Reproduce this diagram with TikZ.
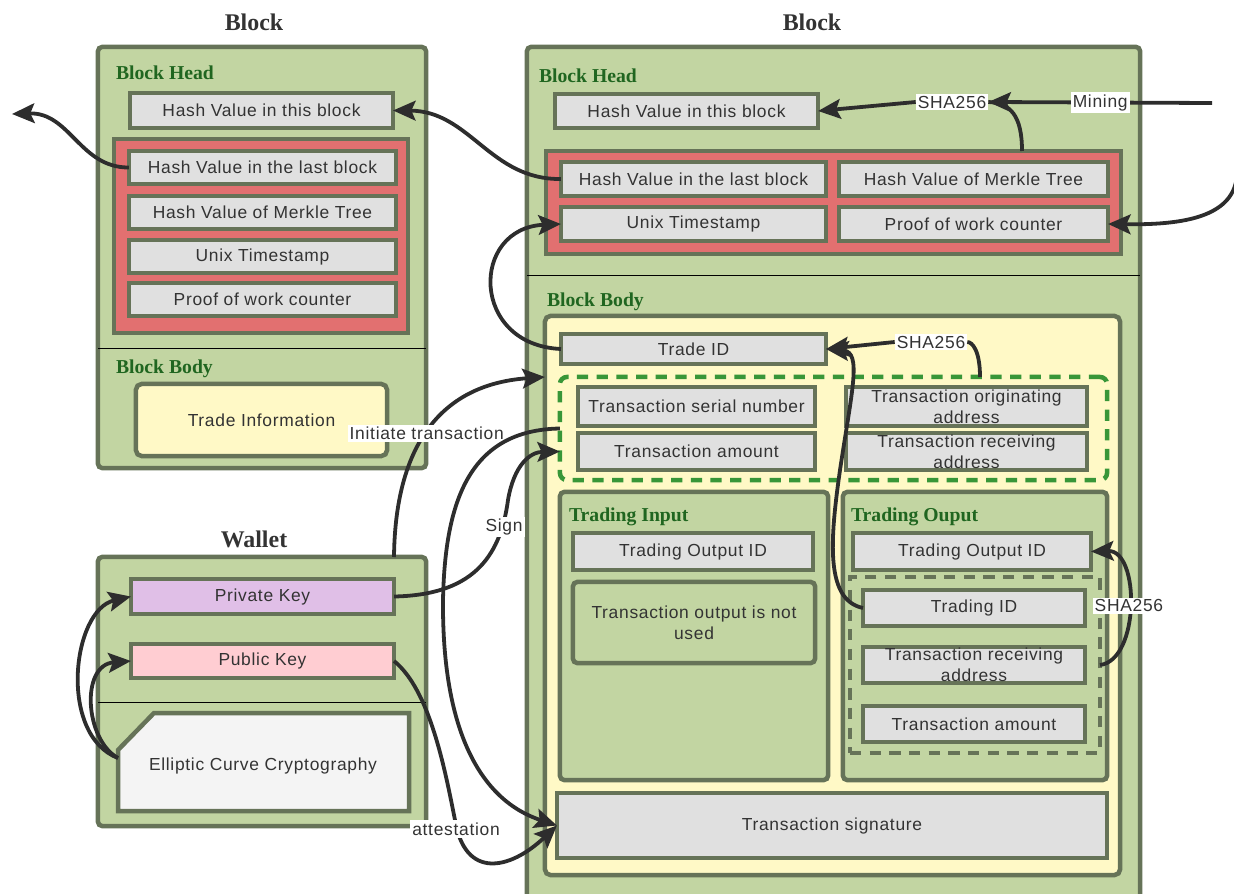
\documentclass[tikz,border=0pt]{standalone}
\usepackage{fontspec}
\setmainfont{Liberation Serif}
\newfontfamily\boxfont[LetterSpace=4]{Liberation Sans}
\usetikzlibrary{arrows.meta}

\definecolor{blockgreen}{RGB}{194,213,162}
\definecolor{edgegray}{RGB}{102,115,88}
\definecolor{fieldgray}{RGB}{224,224,224}
\definecolor{headred}{RGB}{226,112,112}
\definecolor{bodyyellow}{RGB}{255,249,198}
\definecolor{titlegreen}{RGB}{32,102,32}
\definecolor{dashgreen}{RGB}{56,150,56}
\definecolor{linkgray}{RGB}{45,45,45}
\definecolor{privpurple}{RGB}{224,191,231}
\definecolor{pubpink}{RGB}{255,205,210}
\definecolor{eccwhite}{RGB}{244,244,244}
\definecolor{textgray}{RGB}{51,51,51}

\begin{document}
\begin{tikzpicture}[x=0.025cm, y=-0.025cm,
    every node/.style={inner sep=0pt, outer sep=0pt},
    title/.style={font=\bfseries\fontsize{17}{20}\selectfont, text=textgray},
    parthead/.style={anchor=west, font=\bfseries\fontsize{14}{16}\selectfont, text=titlegreen},
    container/.style={draw=edgegray, line width=3.2pt, fill=blockgreen, rounded corners=3pt},
    redgroup/.style={draw=edgegray, line width=3.2pt, fill=headred},
    field/.style={draw=edgegray, line width=3.2pt, fill=fieldgray, text=textgray,
        font=\boxfont\fontsize{12.4}{14.6}\selectfont, align=center},
    bodybox/.style={draw=edgegray, line width=3.2pt, fill=bodyyellow, rounded corners=4pt,
        text=textgray, font=\boxfont\fontsize{12.4}{14.6}\selectfont},
    txgroup/.style={draw=dashgreen, line width=3.2pt, dash pattern=on 8pt off 6pt, rounded corners=5pt},
    outgroup/.style={draw=edgegray, line width=3.2pt, dash pattern=on 8pt off 6pt},
    divider/.style={draw=black, line width=0.7pt},
    flow/.style={draw=linkgray, line width=2.7pt, -{Stealth[length=16pt, width=14pt, inset=3pt]}},
    plainlink/.style={draw=linkgray, line width=2.7pt},
    tag/.style={fill=white, text=textgray, inner sep=1.5pt, font=\boxfont\fontsize{12.4}{14.6}\selectfont}
]
    \useasboundingbox (0,0) rectangle (1234,893);

    % titles
    \node[title] (ltitle) at (254,22) {Block};
    \node[title] (rtitle) at (812,22) {Block};
    \node[title] (wtitle) at (254,539) {Wallet};

    % left block
    \node[container, minimum width=8.2cm, minimum height=10.525cm] (lblock) at (262,257.5) {};
    \draw[divider] (98,348) -- (426,348);
    \node[parthead] (lheadlbl) at (116,73) {Block Head};
    \node[field, minimum width=6.575cm, minimum height=0.875cm] (lhash) at (261.5,110.5) {Hash Value in this block};
    \node[redgroup, minimum width=7.35cm, minimum height=4.85cm] (lred) at (261,236) {};
    \foreach \y/\name/\txt in {167.5/llast/Hash Value in the last block,
        212.5/lmerkle/Hash Value of Merkle Tree,
        256.5/lunix/Unix Timestamp,
        299.5/lpow/Proof of work counter}{
        \node[field, minimum width=6.675cm, minimum height=0.825cm] (\name) at (262.5,\y) {\txt};
    }
    \node[parthead] (lbodylbl) at (116,369) {Block Body};
    \node[bodybox, minimum width=6.275cm, minimum height=1.8cm] (tradeinfo) at (261.5,420) {Trade Information};

    % right block
    \node[container, minimum width=15.325cm, minimum height=21.825cm] (rblock) at (833.5,483.5) {};
    \draw[divider] (527,275) -- (1140,275);
    \node[parthead] (rheadlbl) at (539,76) {Block Head};
    \node[field, minimum width=6.575cm, minimum height=0.85cm] (rhash) at (686.5,111) {Hash Value in this block};
    \node[redgroup, minimum width=14.375cm, minimum height=2.575cm] (rred) at (833.5,202.5) {};
    \node[field, minimum width=6.625cm, minimum height=0.85cm] (rlast) at (693.5,179) {Hash Value in the last block};
    \node[field, minimum width=6.725cm, minimum height=0.85cm] (rmerkle) at (973.5,179) {Hash Value of Merkle Tree};
    \node[field, minimum width=6.625cm, minimum height=0.85cm] (runix) at (693.5,224) {Unix Timestamp};
    \node[field, minimum width=6.725cm, minimum height=0.85cm] (rpow) at (973.5,224) {Proof of work counter};

    \node[parthead] (rbodylbl) at (547,302) {Block Body};
    \node[bodybox, minimum width=14.375cm, minimum height=13.975cm] (body) at (832.5,595.5) {};
    \node[field, minimum width=6.625cm, minimum height=0.75cm] (tradeid) at (693.5,349) {Trade ID};

    \node[txgroup, minimum width=13.675cm, minimum height=2.575cm] (txbox) at (833.5,428.5) {};
    \node[field, minimum width=5.925cm, minimum height=0.975cm] (serial) at (696.5,406.5) {Transaction serial number};
    \node[field, minimum width=6.025cm, minimum height=0.975cm] (origin) at (966.5,406.5) {Transaction originating\\address};
    \node[field, minimum width=5.925cm, minimum height=0.925cm] (amount) at (696.5,451.5) {Transaction amount};
    \node[field, minimum width=6.025cm, minimum height=0.925cm] (receive) at (966.5,451.5) {Transaction receiving\\address};

    % trading input / output
    \node[container, minimum width=6.7cm, minimum height=7.2cm] (tinput) at (694,636) {};
    \node[parthead] (tinputlbl) at (569,517) {Trading Input};
    \node[field, minimum width=6cm, minimum height=0.925cm] (inoutid) at (693,551.5) {Trading Output ID};
    \node[container, text=textgray, font=\boxfont\fontsize{12.4}{14.6}\selectfont, align=center,
        minimum width=6.05cm, minimum height=2.025cm] (unused) at (694,622.5) {Transaction output is not\\used};

    \node[container, minimum width=6.6cm, minimum height=7.2cm] (toutput) at (975,636) {};
    \node[parthead] (toutputlbl) at (851,517) {Trading Ouput};
    \node[field, minimum width=5.95cm, minimum height=0.925cm] (outid) at (972,551.5) {Trading Output ID};
    \node[outgroup, minimum width=6.25cm, minimum height=4.4cm] (outbox) at (975,665) {};
    \node[field, minimum width=5.55cm, minimum height=0.9cm] (tradingid) at (974,608) {Trading ID};
    \node[field, minimum width=5.55cm, minimum height=0.9cm] (outrecv) at (974,665) {Transaction receiving\\address};
    \node[field, minimum width=5.55cm, minimum height=0.9cm] (outamount) at (974,724) {Transaction amount};

    \node[field, minimum width=13.75cm, minimum height=1.625cm] (signature) at (832,825.5) {Transaction signature};

    % wallet
    \node[container, minimum width=8.2cm, minimum height=6.725cm] (wallet) at (262,691.5) {};
    \node[field, fill=privpurple, minimum width=6.575cm, minimum height=0.875cm] (privkey) at (262.5,596.5) {Private Key};
    \node[field, fill=pubpink, minimum width=6.575cm, minimum height=0.85cm] (pubkey) at (262.5,661) {Public Key};
    \draw[divider] (98,702) -- (426,702);
    \draw[draw=edgegray, line width=3.2pt, fill=eccwhite] (118,750) -- (154,713) -- (409,713) -- (409,811) -- (118,811) -- cycle;
    \node[text=textgray, font=\boxfont\fontsize{12.4}{14.6}\selectfont] (ecc) at (263,766) {Elliptic Curve Cryptography};

    % free ends
    \coordinate (prevblock) at (12,114);
    \coordinate (minestart) at (1212,103);
    \coordinate (merkleroot) at (1022,151);
    \coordinate (powin) at (1236,182);
    \coordinate (txtop) at (980,377);
    \coordinate (initstart) at (394,557);
    \coordinate (ecccorner) at (118,758);

    % links of the header
    \draw[flow] (llast.west) .. controls (80,168) and (70,112) .. (prevblock);
    \draw[flow] (rlast.west) .. controls (490,180) and (470,111) .. (lhash.east);
    \node[tag] (shahead) at (952,102) {SHA256};
    \draw[flow] (minestart) -- (shahead.east) node[tag, midway] (mining) {Mining};
    \draw[plainlink] (merkleroot) .. controls (1022,115) and (1010,103) .. (shahead.east);
    \draw[flow] (shahead.west) -- (rhash.east);
    \draw[flow] (powin) .. controls (1228,218) and (1180,225) .. (rpow.east);
    \draw[flow] (tradeid.west) .. controls (470,345) and (470,228) .. (runix.west);

    % links of the body
    \node[tag] (shabody) at (931,342) {SHA256};
    \draw[plainlink] (txtop) .. controls (980,350) and (972,342) .. (shabody.east);
    \draw[flow] (shabody.west) -- (tradeid.east);
    \draw[flow] (tradingid.west) .. controls (825,600) and (830,540) .. (840,470)
        .. controls (852,390) and (862,352) .. (tradeid.east);
    \draw[flow] (outbox.east |- outrecv) .. controls (1140,660) and (1140,550) .. (outid.east)
        node[tag, pos=0.5] (shaout) {SHA256};

    % links of the wallet
    \draw[flow] (initstart) .. controls (395,460) and (430,385) .. (body.west |- txbox.north)
        node[tag, pos=0.5] (initiate) {Initiate transaction};
    \draw[flow] (txbox.west) .. controls (470,430) and (445,500) .. (443,600)
        .. controls (442,730) and (480,800) .. (signature.west);
    \draw[flow] (privkey.east) .. controls (470,595) and (500,560) .. (508,500)
        .. controls (514,465) and (530,452) .. (txbox.west |- amount);
    \node[tag] (sign) at (504,527) {Sign};
    \draw[flow] (pubkey.east) .. controls (430,690) and (445,770) .. (455,820)
        .. controls (465,880) and (510,870) .. (signature.west);
    \node[tag] (attest) at (456,829) {attestation};
    \draw[flow] (ecccorner) .. controls (58,735) and (72,610) .. (privkey.west);
    \draw[flow] (ecccorner) .. controls (85,740) and (80,665) .. (pubkey.west);
\end{tikzpicture}
\end{document}
